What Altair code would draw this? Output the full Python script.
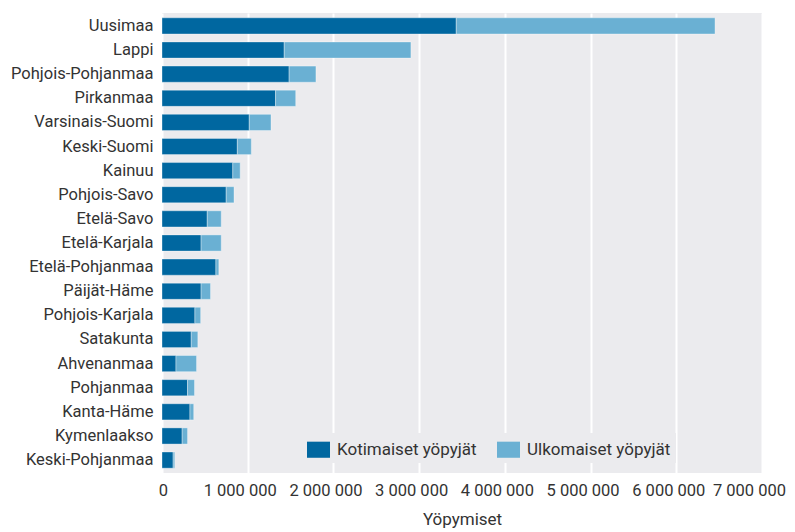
import altair as alt
import pandas as pd

regions = ["Uusimaa", "Lappi", "Pohjois-Pohjanmaa", "Pirkanmaa", "Varsinais-Suomi",
           "Keski-Suomi", "Kainuu", "Pohjois-Savo", "Etelä-Savo", "Etelä-Karjala",
           "Etelä-Pohjanmaa", "Päijät-Häme", "Pohjois-Karjala", "Satakunta",
           "Ahvenanmaa", "Pohjanmaa", "Kanta-Häme", "Kymenlaakso", "Keski-Pohjanmaa"]
kotimaiset = [3433000, 1426000, 1483000, 1325000, 1018000, 879000, 826000, 749000,
              528000, 456000, 629000, 456000, 384000, 341000, 163000, 298000,
              326000, 235000, 130000]
ulkomaiset = [3019000, 1478000, 313000, 235000, 254000, 163000, 86000, 91000,
              163000, 235000, 34000, 110000, 67000, 77000, 240000, 81000,
              44000, 63000, 19000]
series = ["Kotimaiset yöpyjät", "Ulkomaiset yöpyjät"]
colors = ["#0067a0", "#6ab0d3"]
x_ticks = [0, 1000000, 2000000, 3000000, 4000000, 5000000, 6000000, 7000000]

rows = []
for r, k, u in zip(regions, kotimaiset, ulkomaiset):
    rows.append({"alue": r, "sarja": series[0], "arvo": k, "jarj": 0})
    rows.append({"alue": r, "sarja": series[1], "arvo": u, "jarj": 1})
df = pd.DataFrame(rows)

FONT = "Roboto"
TXT = "#333333"

chart = alt.Chart(df).mark_bar(
    stroke="#ffffff", strokeOpacity=0.35, strokeWidth=1
).encode(
    y=alt.Y("alue:N", sort=regions, title=None,
            scale=alt.Scale(paddingInner=0.33, paddingOuter=0.2),
            axis=alt.Axis(labelFontSize=16.5, labelColor=TXT, labelFont=FONT,
                          ticks=False, domain=False, labelPadding=9, labelLimit=200,
                          grid=False)),
    x=alt.X("arvo:Q", stack="zero", title="Yöpymiset",
            scale=alt.Scale(domain=[0, 7000000], nice=False),
            axis=alt.Axis(values=x_ticks,
                          labelExpr="replace(format(datum.value, ',d'), /,/g, ' ')",
                          labelFontSize=16.5, labelColor=TXT, labelFont=FONT,
                          labelOffset={"condition": [
                              {"test": "datum.value == 0", "value": 1},
                              {"test": "datum.value == 7000000", "value": -13}],
                              "value": -8},
                          titleFont=FONT, titleFontSize=17, titleColor=TXT,
                          titleFontWeight="normal", titlePadding=13,
                          ticks=False, domain=False, labelPadding=9,
                          grid=True, gridColor="#ffffff", gridWidth=2,
                          labelFlush=False, labelOverlap=False)),
    color=alt.Color("sarja:N", scale=alt.Scale(domain=series, range=colors),
                    legend=alt.Legend(title=None, orient="none", direction="horizontal",
                                      legendX=140, legendY=420,
                                      symbolType="M-1,-0.7L1,-0.7L1,0.7L-1,0.7Z",
                                      symbolSize=529,
                                      symbolStrokeWidth=0, symbolOpacity=1,
                                      labelFontSize=17, labelFont=FONT, labelColor=TXT,
                                      fillColor="#ebebee", padding=5, columnPadding=20,
                                      labelOffset=7)),
    order=alt.Order("jarj:Q"),
).properties(
    width=600, height=460,
    background="#ffffff",
    autosize=alt.AutoSizeParams(type="none"),
    padding={"left": 154, "top": 5, "right": 25, "bottom": 56},
).configure_view(
    fill="#ebebee", strokeWidth=0
)

chart.save("out.html", embed_options={"renderer": "svg", "actions": False})
